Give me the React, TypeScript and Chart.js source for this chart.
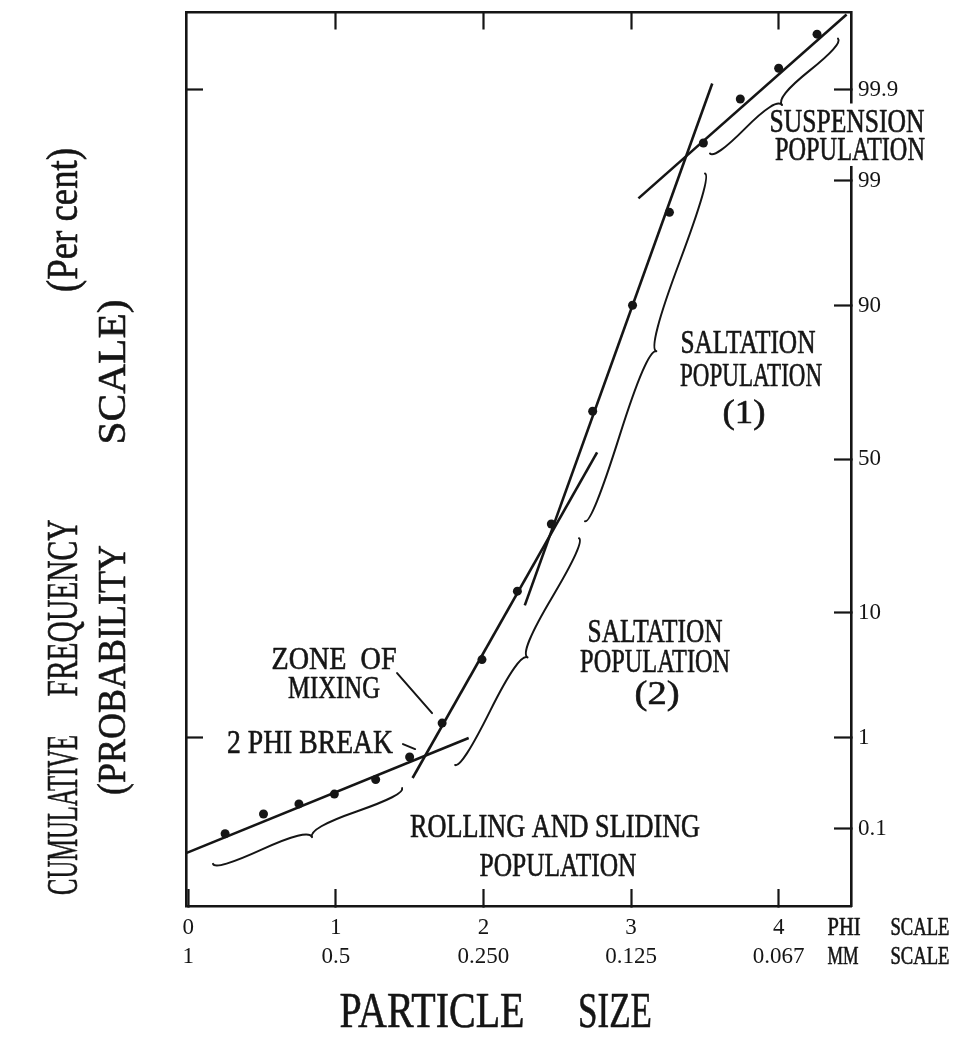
import React, { useEffect, useRef } from 'react';
import { Chart, Scale, registerables } from 'chart.js';

const FONT = '"Liberation Serif", "DejaVu Serif", serif';
const INK = '#151515';

// ---- axes ----
const X_MIN = -0.015;
const X_MAX = 4.49;
const Z_LIMIT = 3.735;

const PHI_TICKS = [0, 1, 2, 3, 4];
const PHI_LABELS = ['0', '1', '2', '3', '4'];
const MM_LABELS = ['1', '0.5', '0.250', '0.125', '0.067'];
const TOP_TICKS = [1, 2, 3, 4];

const PROB_TICKS = [0.1, 1, 10, 50, 90, 99, 99.9];
const PROB_LABELS = ['0.1', '1', '10', '50', '90', '99', '99.9'];
const LEFT_TICKS = [1, 99.9];

// ---- sample (phi, cumulative %) ----
const SAMPLE_PHI = [0.25, 0.51, 0.75, 0.99, 1.27, 1.5, 1.72, 1.99, 2.23, 2.46, 2.74, 3.01, 3.26, 3.49, 3.74, 4.0, 4.26];
const SAMPLE_PCT = [0.087, 0.151, 0.198, 0.256, 0.37, 0.64, 1.37, 4.7, 13.5, 29.4, 65.6, 90.1, 98.05, 99.59, 99.87, 99.946, 99.981];

// ---- fitted population segments ----
const ROLLING_PHI = [-0.01, 1.9];
const ROLLING_PCT = [0.05, 0.99];
const SALTATION2_PHI = [1.52, 2.77];
const SALTATION2_PCT = [0.385, 52.3];
const SALTATION1_PHI = [2.28, 3.55];
const SALTATION1_PCT = [11.1, 99.916];
const SUSPENSION_PHI = [3.05, 4.46];
const SUSPENSION_PCT = [98.54, 99.99];

// ---- annotations, anchored in (phi, normal deviate) ----
const BRACES = [
  { from: [0.168, -3.383], to: [1.449, -2.749] },
  { from: [1.808, -2.556], to: [2.647, -0.66] },
  { from: [2.688, -0.518], to: [3.501, 2.389] },
  { from: [3.535, 2.556], to: [4.402, 3.517] },
];
const LEADERS = [
  { from: [1.415, -1.788], to: [1.652, -2.122] },
  { from: [1.455, -2.381], to: [1.537, -2.423] },
];
const LABELS = [
  { text: 'SUSPENSION', phi: 4.463, z: 2.832, cap: 22, width: 155, mask: true },
  { text: 'POPULATION', phi: 4.483, z: 2.594, cap: 22, width: 150, mask: true },
  { text: 'SALTATION', phi: 3.792, z: 0.977, cap: 22, width: 135 },
  { text: 'POPULATION', phi: 3.813, z: 0.702, cap: 22, width: 142 },
  { text: '(1)', phi: 3.765, z: 0.393, cap: 22, width: 43 },
  { text: 'SALTATION', phi: 3.163, z: -1.437, cap: 22, width: 135 },
  { text: 'POPULATION', phi: 3.163, z: -1.688, cap: 22, width: 150 },
  { text: '(2)', phi: 3.176, z: -1.955, cap: 22, width: 45 },
  { text: 'ZONE  OF', phi: 0.988, z: -1.662, cap: 21, width: 125 },
  { text: 'MIXING', phi: 0.988, z: -1.905, cap: 21, width: 92 },
  { text: '2 PHI BREAK', phi: 0.825, z: -2.364, cap: 22, width: 166 },
  { text: 'ROLLING AND SLIDING', phi: 2.485, z: -3.066, cap: 22, width: 290 },
  { text: 'POPULATION', phi: 2.505, z: -3.392, cap: 22, width: 157 },
];

// ---- math for the probability scale ----
function probit(p: number): number {
  const a = [-3.969683028665376e1, 2.209460984245205e2, -2.759285104469687e2, 1.38357751867269e2, -3.066479806614716e1, 2.506628277459239];
  const b = [-5.447609879822406e1, 1.615858368580409e2, -1.556989798598866e2, 6.680131188771972e1, -1.328068155288572e1];
  const c = [-7.784894002430293e-3, -3.223964580411365e-1, -2.400758277161838, -2.549732539343734, 4.374664141464968, 2.938163982698783];
  const d = [7.784695709041462e-3, 3.224671290700398e-1, 2.445134137142996, 3.754408661907416];
  if (p <= 0) return -9;
  if (p >= 1) return 9;
  const pl = 0.02425;
  if (p < pl) {
    const q = Math.sqrt(-2 * Math.log(p));
    return (((((c[0] * q + c[1]) * q + c[2]) * q + c[3]) * q + c[4]) * q + c[5]) / ((((d[0] * q + d[1]) * q + d[2]) * q + d[3]) * q + 1);
  }
  if (p > 1 - pl) {
    const q = Math.sqrt(-2 * Math.log(1 - p));
    return -(((((c[0] * q + c[1]) * q + c[2]) * q + c[3]) * q + c[4]) * q + c[5]) / ((((d[0] * q + d[1]) * q + d[2]) * q + d[3]) * q + 1);
  }
  const q = p - 0.5;
  const r = q * q;
  return ((((((a[0] * r + a[1]) * r + a[2]) * r + a[3]) * r + a[4]) * r + a[5]) * q) / (((((b[0] * r + b[1]) * r + b[2]) * r + b[3]) * r + b[4]) * r + 1);
}

function normCdf(z: number): number {
  const t = 1 / (1 + 0.2316419 * Math.abs(z));
  const dd = 0.3989422804014327 * Math.exp((-z * z) / 2);
  const p = dd * t * (0.31938153 + t * (-0.356563782 + t * (1.781477937 + t * (-1.821255978 + t * 1.330274429))));
  return z > 0 ? 1 - p : p;
}

const Y_MIN = 100 * normCdf(-Z_LIMIT);
const Y_MAX = 100 * normCdf(Z_LIMIT);

class ProbabilityScale extends Scale {
  static id = 'probability';
  static defaults = {};
  determineDataLimits() {
    // @ts-ignore
    this.min = this.options.min;
    // @ts-ignore
    this.max = this.options.max;
  }
  buildTicks() {
    return PROB_TICKS.map((value) => ({ value }));
  }
  getLabelForValue(value: number) {
    return String(value);
  }
  configure() {
    super.configure();
    // @ts-ignore
    this._zmin = probit(this.min / 100);
    // @ts-ignore
    this._zmax = probit(this.max / 100);
  }
  getPixelForValue(value: number) {
    if (value == null || isNaN(value)) return NaN;
    const z = probit(value / 100);
    // @ts-ignore
    return this.getPixelForDecimal((z - this._zmin) / (this._zmax - this._zmin));
  }
  getValueForPixel(pixel: number) {
    const dec = this.getDecimalForPixel(pixel);
    // @ts-ignore
    return 100 * normCdf(this._zmin + dec * (this._zmax - this._zmin));
  }
}

Chart.register(...registerables, ProbabilityScale as any);

function drawCondensed(ctx: CanvasRenderingContext2D, text: string, cx: number, cy: number, cap: number, width: number, rot = 0) {
  const size = cap / 0.66;
  ctx.save();
  ctx.font = `${size}px ${FONT}`;
  const w0 = ctx.measureText(text).width;
  const sx = width / w0;
  ctx.translate(cx, cy);
  if (rot) ctx.rotate(rot);
  ctx.scale(sx, 1);
  ctx.fillStyle = INK;
  ctx.strokeStyle = INK;
  ctx.lineWidth = 0.6;
  ctx.textAlign = 'center';
  ctx.textBaseline = 'alphabetic';
  ctx.fillText(text, 0, cap / 2);
  ctx.strokeText(text, 0, cap / 2);
  ctx.restore();
}

function drawBrace(ctx: CanvasRenderingContext2D, x1: number, y1: number, x2: number, y2: number, w: number, q: number) {
  let dx = x1 - x2;
  let dy = y1 - y2;
  const len = Math.hypot(dx, dy);
  dx /= len;
  dy /= len;
  const qx1 = x1 + q * w * dy, qy1 = y1 - q * w * dx;
  const qx2 = x1 - 0.25 * len * dx + (1 - q) * w * dy, qy2 = y1 - 0.25 * len * dy - (1 - q) * w * dx;
  const tx = x1 - 0.5 * len * dx + w * dy, ty = y1 - 0.5 * len * dy - w * dx;
  const qx3 = x2 + q * w * dy, qy3 = y2 - q * w * dx;
  const qx4 = x1 - 0.75 * len * dx + (1 - q) * w * dy, qy4 = y1 - 0.75 * len * dy - (1 - q) * w * dx;
  ctx.beginPath();
  ctx.moveTo(x1, y1);
  ctx.quadraticCurveTo(qx1, qy1, qx2, qy2);
  ctx.quadraticCurveTo(2 * qx2 - qx1, 2 * qy2 - qy1, tx, ty);
  ctx.moveTo(x2, y2);
  ctx.quadraticCurveTo(qx3, qy3, qx4, qy4);
  ctx.quadraticCurveTo(2 * qx4 - qx3, 2 * qy4 - qy3, tx, ty);
  ctx.stroke();
}

const annotationPlugin = {
  id: 'sedimentAnnotations',
  afterDraw(chart: any) {
    const { ctx } = chart;
    const xs = chart.scales.x;
    const ys = chart.scales.y;
    const P = (phi: number, z: number) => [xs.getPixelForValue(phi), ys.getPixelForValue(100 * normCdf(z))];
    ctx.save();
    ctx.strokeStyle = INK;
    ctx.lineCap = 'round';
    ctx.lineJoin = 'round';

    // masks behind labels that cross the axis
    for (const t of LABELS) {
      if (!t.mask) continue;
      const [x, y] = P(t.phi, t.z);
      ctx.fillStyle = '#ffffff';
      ctx.fillRect(x - t.width / 2 - 4, y - t.cap / 2 - 6, t.width + 8, t.cap + 12);
    }

    ctx.lineWidth = 2;
    for (const b of BRACES) {
      const [x1, y1] = P(b.from[0], b.from[1]);
      const [x2, y2] = P(b.to[0], b.to[1]);
      drawBrace(ctx, x1, y1, x2, y2, 12, 0.6);
    }
    for (const l of LEADERS) {
      const [x1, y1] = P(l.from[0], l.from[1]);
      const [x2, y2] = P(l.to[0], l.to[1]);
      ctx.beginPath();
      ctx.moveTo(x1, y1);
      ctx.lineTo(x2, y2);
      ctx.stroke();
    }
    for (const t of LABELS) {
      const [x, y] = P(t.phi, t.z);
      drawCondensed(ctx, t.text, x, y, t.cap, t.width);
    }

    // scale names beside the x tick labels
    const row1 = chart.chartArea.bottom + 21;
    const row2 = chart.chartArea.bottom + 50;
    drawCondensed(ctx, 'PHI', 836, row1, 16, 33);
    drawCondensed(ctx, 'SCALE', 912, row1, 16, 59);
    drawCondensed(ctx, 'MM', 835, row2, 16, 31);
    drawCondensed(ctx, 'SCALE', 912, row2, 16, 59);

    // x title
    drawCondensed(ctx, 'PARTICLE', 424, 1002, 33, 185);
    drawCondensed(ctx, 'SIZE', 607, 1002, 33, 74);

    // y title (rotated)
    const R = -Math.PI / 2;
    drawCondensed(ctx, 'CUMULATIVE', 54, 807, 29, 160, R);
    drawCondensed(ctx, 'FREQUENCY', 54, 600, 29, 177, R);
    drawCondensed(ctx, '(Per cent)', 54, 212, 29, 144, R);
    drawCondensed(ctx, '(PROBABILITY', 103, 662, 27, 250, R);
    drawCondensed(ctx, 'SCALE)', 103, 364, 27, 145, R);

    ctx.restore();
  },
};

const gridInward = { display: true, drawOnChartArea: false, drawTicks: true, tickLength: -17, tickWidth: 2.2, color: INK };
const frame = { display: true, width: 2.6, color: INK };

export default function App() {
  const ref = useRef<HTMLCanvasElement | null>(null);

  useEffect(() => {
    if (!ref.current) return;
    const seg = (phis: number[], pcts: number[]) => ({
      data: phis.map((x, i) => ({ x, y: pcts[i] })),
      showLine: true,
      borderColor: INK,
      borderWidth: 2.6,
      pointRadius: 0,
      order: 2,
      clip: false as any,
    });
    const chart = new Chart(ref.current, {
      type: 'scatter',
      data: {
        datasets: [
          {
            data: SAMPLE_PHI.map((x, i) => ({ x, y: SAMPLE_PCT[i] })),
            pointRadius: 4.5,
            pointBackgroundColor: INK,
            pointBorderWidth: 0,
            order: 1,
          },
          seg(ROLLING_PHI, ROLLING_PCT),
          seg(SALTATION2_PHI, SALTATION2_PCT),
          seg(SALTATION1_PHI, SALTATION1_PCT),
          seg(SUSPENSION_PHI, SUSPENSION_PCT),
        ] as any,
      },
      options: {
        animation: false,
        responsive: true,
        maintainAspectRatio: false,
        devicePixelRatio: 1,
        layout: { padding: { left: 178, top: 3, right: 0, bottom: 0 } },
        plugins: { legend: { display: false }, tooltip: { enabled: false } },
        scales: {
          x: {
            type: 'linear',
            position: 'bottom',
            min: X_MIN,
            max: X_MAX,
            bounds: 'data',
            afterBuildTicks: (s: any) => {
              s.ticks = PHI_TICKS.map((value) => ({ value }));
            },
            afterFit: (s: any) => {
              s.height = 122;
              s.paddingLeft = 0;
              s.paddingRight = 0;
            },
            grid: gridInward,
            border: frame,
            ticks: {
              padding: 24,
              color: INK,
              autoSkip: false,
              maxRotation: 0,
              font: { family: FONT, size: 23, lineHeight: 1.27 },
              callback: (_v: any, i: number) => [PHI_LABELS[i], MM_LABELS[i]],
            },
          },
          x2: {
            type: 'linear',
            position: 'top',
            min: X_MIN,
            max: X_MAX,
            bounds: 'data',
            afterBuildTicks: (s: any) => {
              s.ticks = TOP_TICKS.map((value) => ({ value }));
            },
            afterFit: (s: any) => {
              s.height = 0;
              s.paddingLeft = 0;
              s.paddingRight = 0;
            },
            grid: gridInward,
            border: frame,
            ticks: { display: false },
          },
          y: {
            type: 'probability' as any,
            position: 'right',
            min: Y_MIN,
            max: Y_MAX,
            afterFit: (s: any) => {
              s.width = 100;
              s.paddingTop = 0;
              s.paddingBottom = 0;
            },
            grid: gridInward,
            border: frame,
            ticks: {
              padding: 24,
              color: INK,
              font: { family: FONT, size: 23 },
              callback: (_v: any, i: number) => PROB_LABELS[i],
            },
          } as any,
          y2: {
            type: 'probability' as any,
            position: 'left',
            min: Y_MIN,
            max: Y_MAX,
            afterBuildTicks: (s: any) => {
              s.ticks = LEFT_TICKS.map((value) => ({ value }));
            },
            afterFit: (s: any) => {
              s.width = 0;
              s.paddingTop = 0;
              s.paddingBottom = 0;
            },
            grid: gridInward,
            border: frame,
            ticks: { display: false },
          } as any,
        },
      },
      plugins: [annotationPlugin],
    });
    return () => chart.destroy();
  }, []);

  return (
    <div style={{ width: 943, height: 1020, position: 'relative', background: '#fff' }}>
      <canvas ref={ref} />
    </div>
  );
}
